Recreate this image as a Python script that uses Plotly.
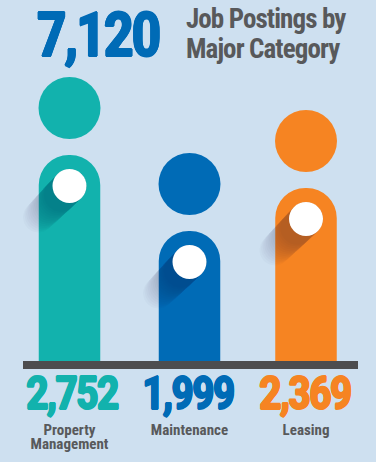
import numpy as np
import plotly.graph_objects as go

categories = ["Property<br>Management", "Maintenance", "Leasing"]
postings = [2752, 1999, 2369]
total_postings = 7120
chart_title = "Job Postings by<br>Major Category"
pictogram_heights = [206, 130, 173]
colors = ["#12B2AD", "#006BB6", "#F68422"]

BG = "#CEE0F0"
INK = "#58595B"
W, H = 376, 462
L, R, T, B = 23, 18, 0, 101
PLOT_H = H - T - B
PLOT_W = W - L - R
slots = np.array([0.0, 1.0148, 2.0])
px_per_slot = (306 - 69.5) / 2
xr = [-(69.5 - L) / px_per_slot, (W - R - 69.5) / px_per_slot]
COND = "Roboto Condensed, Open Sans Condensed, sans-serif"


def bold(c, d=0.6):
    return f"{d}px 0 0 {c}, -{d}px 0 0 {c}, 0 {d}px 0 {c}, 0 -{d}px 0 {c}"


fig = go.Figure()
fig.add_trace(go.Bar(x=slots, y=pictogram_heights, width=61.5 / px_per_slot,
                     marker=dict(color=colors, line_width=0), hoverinfo="skip"))

KNOB_DROP, HEAD_RISE, KNOB_R = 31, 47, 17
LAYERS = 14
near = np.linspace(3 * np.pi / 4, -np.pi / 4, 24)
far = np.linspace(-np.pi / 4, -5 * np.pi / 4, 24)
for xs, h in zip(slots, pictogram_heights):
    cy = h - KNOB_DROP
    for i in range(LAYERS):
        reach = 10 + 34 * (i + 1) / LAYERS
        off = reach * np.sqrt(0.5)
        tail_r = KNOB_R * (1 - 0.1 * i / LAYERS)
        px = np.concatenate([KNOB_R * np.cos(near), tail_r * np.cos(far) - off])
        py = np.concatenate([KNOB_R * np.sin(near), tail_r * np.sin(far) - off])
        fig.add_trace(go.Scatter(x=px / px_per_slot + xs, y=py + cy, mode="lines", line_width=0,
                                 fill="toself", fillcolor="rgba(10,25,45,0.02)", hoverinfo="skip"))

fig.add_trace(go.Scatter(x=slots, y=[h + HEAD_RISE for h in pictogram_heights], mode="markers",
                         marker=dict(size=62, color=colors, line_width=0), hoverinfo="skip"))
fig.add_trace(go.Scatter(x=slots, y=[h - KNOB_DROP for h in pictogram_heights], mode="markers",
                         marker=dict(size=34, color="white", line_width=0), hoverinfo="skip"))

for xs, v, c, nudge in zip(slots, postings, colors, [2, -2, -2]):
    fig.add_annotation(x=xs, xref="x", xshift=nudge, y=-31 / PLOT_H, yref="paper",
                       text=f"{v:,}", showarrow=False, yanchor="middle", xanchor="center",
                       font=dict(family=COND, size=47, color=c, weight=700, shadow=bold(c)))

fig.add_annotation(x=(25 - L) / PLOT_W, xref="paper", xanchor="left", y=1 - 35 / PLOT_H, yref="paper",
                   yanchor="middle", text=f"{total_postings:,}", showarrow=False,
                   font=dict(family=COND, size=62, color=colors[1], weight=700, shadow=bold(colors[1])))

fig.update_layout(
    width=W, height=H, autosize=False, showlegend=False,
    margin=dict(l=L, r=R, t=T, b=B, pad=0), paper_bgcolor=BG, plot_bgcolor=BG,
    barcornerradius=30,
    title=dict(text=chart_title, x=186 / W, xanchor="left", xref="container",
               y=1 - 28 / H, yanchor="middle", yref="container",
               font=dict(family=COND, size=27, color=INK, weight=700)),
    xaxis=dict(range=xr, showgrid=False, zeroline=False, showline=True, linecolor="#4D4D4F", linewidth=8,
               tickmode="array", tickvals=slots, ticktext=categories, ticks="",
               tickfont=dict(family=COND, size=15, color=INK, weight=700), ticklabelstandoff=48),
    yaxis=dict(range=[0, PLOT_H], visible=False),
)
post = """
document.body.style.margin = 0;
document.querySelectorAll('text').forEach(function (t) {
  var fs = parseFloat(t.style.fontSize) || 12;
  if (fs > 55) t.style.letterSpacing = '-3.6px';
  else if (fs > 40) t.style.letterSpacing = '-3px';
  else if (fs > 20) t.style.letterSpacing = '-0.9px';
  t.querySelectorAll('tspan.line').forEach(function (s) {
    var dy = parseFloat(s.getAttribute('dy'));
    if (dy) s.setAttribute('dy', (fs > 20 ? 1.11 : 0.93) + 'em');
  });
});
"""
fig.write_html("out.html", post_script=post, config={"displayModeBar": False})
